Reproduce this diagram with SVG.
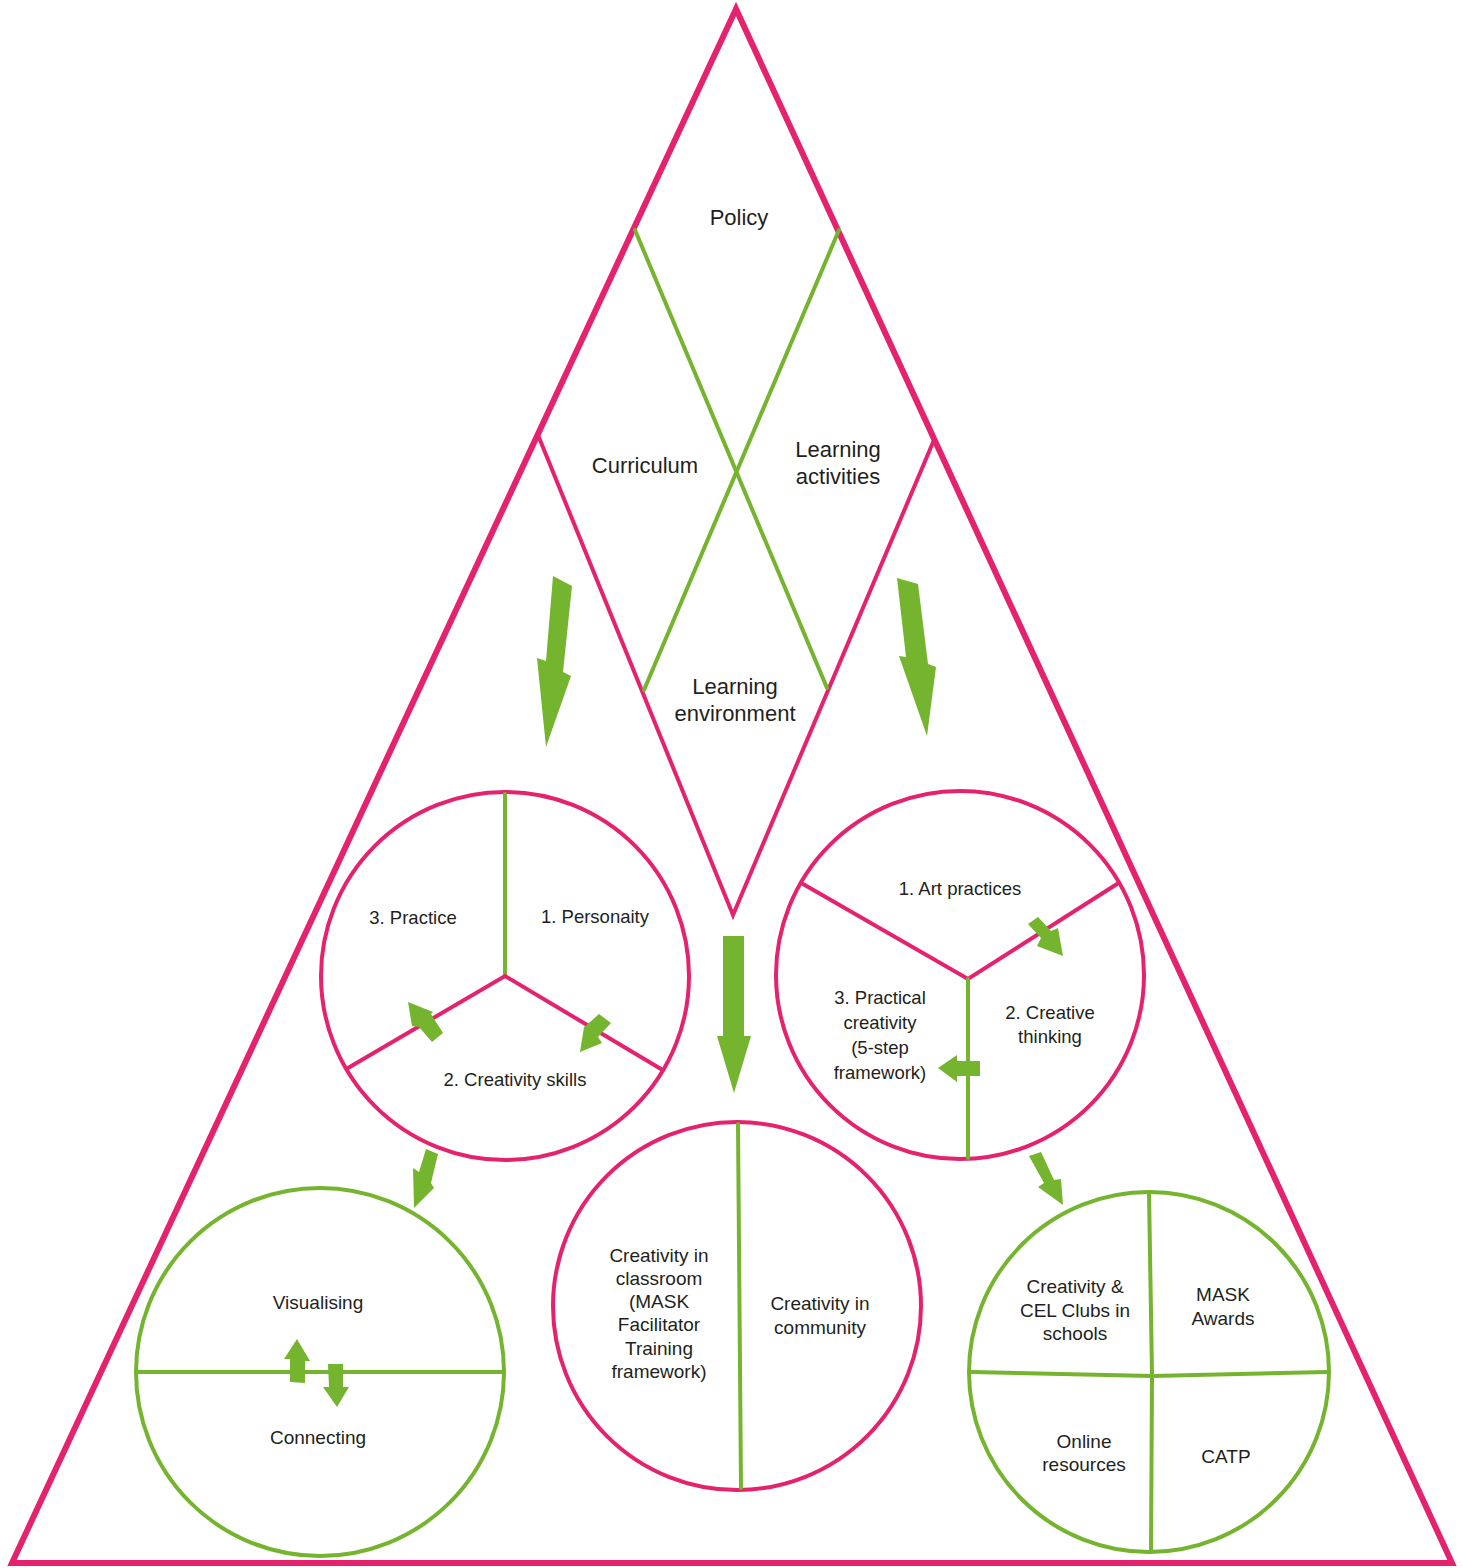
<svg xmlns="http://www.w3.org/2000/svg" width="1463" height="1568" viewBox="0 0 1463 1568">
<style>
.pk{fill:none;stroke:#e5226e;stroke-width:4;stroke-linecap:round}
.gr{fill:none;stroke:#75b42e;stroke-width:4;stroke-linecap:round}
.ar{fill:#75b42e;stroke:none}
text{font-family:"Liberation Sans",Arial,sans-serif;fill:#231f20;text-anchor:middle}
.big{font-size:22px}
.sm{font-size:18.5px}
.md{font-size:19px}
</style>
<rect width="1463" height="1568" fill="#ffffff"/>
<g id="pyramid">
<polygon points="736,9 12,1563 1452,1563" fill="none" stroke="#e5226e" stroke-width="6" stroke-linejoin="miter"/>
</g>
<g id="diamonds">
<polyline class="pk" points="538,435 733,915 934,440"/>
<line class="gr" x1="635" y1="230" x2="827" y2="688"/>
<line class="gr" x1="839" y1="230" x2="644" y2="690"/>
</g>
<g id="policy"><text class="big" x="739" y="225">Policy</text></g>
<g id="curriculum"><text class="big" x="645" y="473">Curriculum</text></g>
<g id="learning-activities"><text class="big" x="838" y="457">Learning</text><text class="big" x="838" y="484">activities</text></g>
<g id="learning-environment"><text class="big" x="735" y="694">Learning</text><text class="big" x="735" y="721">environment</text></g>
<g id="circle-left">
<circle class="pk" cx="505" cy="976" r="184"/>
<line class="gr" x1="505" y1="794" x2="505" y2="976"/>
<polyline class="pk" points="348,1068 505,976 661,1069"/>
<text class="sm" x="413" y="923.5">3. Practice</text>
<text class="sm" x="595" y="922.5">1. Personaity</text>
<text class="sm" x="515" y="1085.5">2. Creativity skills</text>
</g>
<g id="circle-right">
<circle class="pk" cx="960" cy="975" r="184"/>
<polyline class="pk" points="803,884 968,979 1117,884"/>
<line class="gr" x1="968" y1="979" x2="968" y2="1158"/>
<text class="sm" x="960" y="894.5">1. Art practices</text>
<text class="sm" x="1050" y="1018.5">2. Creative</text>
<text class="sm" x="1050" y="1042.5">thinking</text>
<text class="sm" x="880" y="1003.5">3. Practical</text>
<text class="sm" x="880" y="1028.5">creativity</text>
<text class="sm" x="880" y="1053.5">(5-step</text>
<text class="sm" x="880" y="1078.5">framework)</text>
</g>
<g id="circle-center">
<circle class="pk" cx="737" cy="1306" r="184"/>
<line class="gr" x1="738" y1="1124" x2="741" y2="1488"/>
<text class="md" x="659" y="1262">Creativity in</text>
<text class="md" x="659" y="1285">classroom</text>
<text class="md" x="659" y="1308">(MASK</text>
<text class="md" x="659" y="1331">Facilitator</text>
<text class="md" x="659" y="1355">Training</text>
<text class="md" x="659" y="1378">framework)</text>
<text class="md" x="820" y="1310">Creativity in</text>
<text class="md" x="820" y="1334">community</text>
</g>
<g id="circle-bottom-left">
<circle class="gr" cx="320" cy="1372" r="184"/>
<line class="gr" x1="138" y1="1372" x2="502" y2="1372"/>
<text class="md" x="318" y="1309">Visualising</text>
<text class="md" x="318" y="1444">Connecting</text>
</g>
<g id="circle-bottom-right">
<circle class="gr" cx="1149" cy="1372" r="180"/>
<polyline class="gr" points="1149,1192 1152,1375 1151,1552"/>
<polyline class="gr" points="972,1372 1152,1376 1327,1372"/>
<text class="md" x="1075" y="1293">Creativity &amp;</text>
<text class="md" x="1075" y="1317">CEL Clubs in</text>
<text class="md" x="1075" y="1340">schools</text>
<text class="md" x="1223" y="1301">MASK</text>
<text class="md" x="1223" y="1325">Awards</text>
<text class="md" x="1084" y="1448">Online</text>
<text class="md" x="1084" y="1471">resources</text>
<text class="md" x="1226" y="1463">CATP</text>
</g>
<g id="connectors">
<polygon class="ar" points="553,576 572,586 563,672 571,676 546,747 537,658 546,661"/>
<polygon class="ar" points="897,578 918,584 928,664 936,667 927,736 899,656 906,657"/>
<polygon class="ar" points="723,936 744,936 744,1036 751,1036 734,1093 717,1036 723,1036"/>
<polygon class="ar" points="408,1002 433,1012 431,1014 443,1033 432,1042 419,1027 412,1026"/>
<polygon class="ar" points="599,1014 611,1023 598,1037 602,1043 580,1052 584,1027 590,1022"/>
<polygon class="ar" points="1028,924 1038,917 1051,931 1058,928 1063,956 1037,946 1041,938"/>
<polygon class="ar" points="938,1068 957,1055 957,1061 980,1061 980,1076 957,1076 957,1082"/>
<polygon class="ar" points="297,1339 310,1361 305,1361 305,1383 290,1382 290,1359 284,1359"/>
<polygon class="ar" points="328,1364 343,1364 343,1387 349,1387 337,1407 323,1387 329,1387"/>
<polygon class="ar" points="426,1149 438,1154 431,1183 434,1188 414,1208 413,1168 419,1172"/>
<polygon class="ar" points="1029,1156 1041,1152 1054,1180 1061,1179 1063,1205 1038,1187 1044,1183"/>
</g>
</svg>
